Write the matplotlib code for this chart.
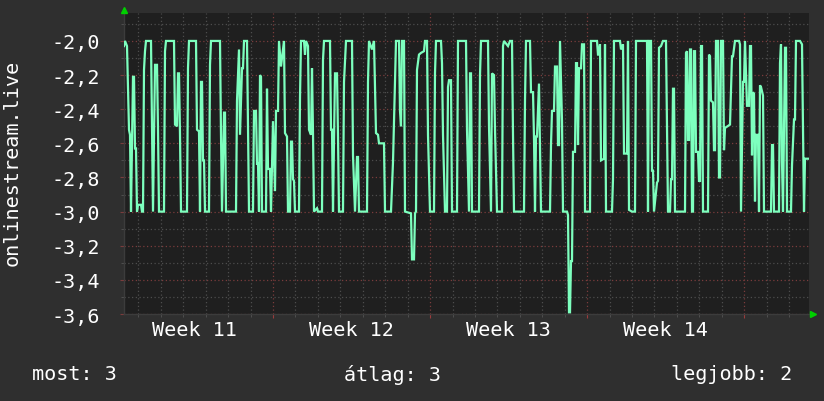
import matplotlib
matplotlib.use('Agg')
import matplotlib.pyplot as plt
from matplotlib.ticker import MultipleLocator, FuncFormatter
import matplotlib.transforms as mtransforms

# ---- data (one rrd column ~ 1.07 h, time in hours from start of week 11) ----
step_hours = 1.07
t_start = 8.5
sample_idx = [
    0, 1, 3, 5, 6, 7, 9, 10, 11, 12, 13, 14, 17, 18, 19, 20, 21, 22, 27, 28,
    29, 31, 33, 34, 35, 40, 41, 42, 50, 51, 53, 54, 55, 56, 57, 63, 64, 65, 72, 73,
    75, 76, 77, 78, 79, 80, 81, 85, 86, 87, 96, 97, 98, 100, 101, 102, 112, 113, 115, 116,
    118, 119, 120, 123, 124, 125, 129, 130, 132, 133, 134, 135, 136, 137, 138, 142, 143, 144, 146, 147,
    149, 151, 152, 154, 155, 157, 160, 161, 163, 164, 166, 167, 168, 169, 170, 171, 175, 176, 177, 180,
    181, 182, 184, 185, 187, 188, 189, 190, 193, 194, 198, 199, 200, 206, 207, 208, 209, 211, 213, 214,
    215, 219, 220, 222, 228, 229, 231, 233, 234, 235, 243, 244, 245, 248, 250, 252, 254, 255, 260, 261,
    267, 269, 271, 272, 275, 276, 277, 278, 280, 281, 287, 288, 290, 291, 292, 293, 295, 297, 300, 301,
    303, 304, 306, 310, 311, 312, 317, 318, 319, 321, 323, 324, 325, 327, 328, 333, 334, 342, 343, 345,
    346, 347, 348, 355, 356, 357, 364, 365, 367, 368, 370, 371, 373, 378, 379, 380, 384, 386, 388, 389,
    390, 400, 401, 402, 406, 407, 409, 410, 411, 412, 413, 415, 417, 426, 427, 428, 430, 431, 433, 434,
    435, 436, 438, 439, 443, 444, 445, 446, 447, 448, 449, 451, 452, 453, 454, 455, 457, 458, 460, 461,
    466, 467, 473, 474, 475, 476, 477, 480, 481, 482, 488, 489, 490, 496, 497, 499, 500, 503, 504, 505,
    508, 511, 512, 523, 524, 525, 527, 528, 529, 530, 533, 534, 535, 537, 539, 542, 544, 546, 547, 548,
    549, 550, 551, 561, 562, 563, 564, 565, 566, 567, 568, 569, 570, 571, 572, 574, 575, 576, 577, 578,
    579, 584, 585, 586, 587, 589, 590, 591, 592, 594, 595, 596, 597, 599, 600, 601, 606, 608, 609, 611,
    615, 616, 617, 619, 620, 621, 623, 625, 626, 627, 628, 629, 630, 631, 632, 634, 635, 636, 637, 639,
    640, 647, 648, 649, 650, 655, 656, 657, 658, 659, 661, 662, 663, 667, 668, 670, 671, 672, 676, 678,
    680, 681, 684,
]
values = [
    -2.03, -2.0, -2.03, -2.52, -2.55, -3.0, -2.21, -2.21, -2.63, -2.63, -3.0, -2.96, -2.96, -3.0, -3.0, -2.17, -2.06, -2.0, -2.0, -2.52,
    -3.0, -2.14, -2.14, -2.52, -3.0, -3.0, -2.06, -2.0, -2.0, -2.49, -2.5, -2.19, -2.19, -2.55, -3.0, -3.0, -2.16, -2.0, -2.0, -2.52,
    -2.53, -3.0, -2.24, -2.24, -2.7, -2.7, -3.0, -3.0, -2.14, -2.0, -2.0, -2.55, -3.0, -2.42, -2.42, -3.0, -3.0, -2.35, -2.05, -2.55,
    -2.16, -2.16, -2.0, -2.0, -2.5, -3.0, -3.0, -2.41, -2.41, -2.72, -2.72, -3.0, -2.2, -2.21, -3.0, -3.0, -2.28, -2.75, -2.75, -3.0,
    -2.47, -2.88, -2.41, -2.41, -2.0, -2.15, -2.0, -2.54, -2.56, -3.0, -3.0, -2.59, -2.59, -2.81, -2.82, -3.0, -3.0, -2.33, -2.0, -2.0,
    -2.08, -2.0, -2.03, -2.52, -2.55, -2.16, -2.54, -3.0, -2.98, -3.0, -3.0, -2.11, -2.0, -2.0, -2.52, -2.52, -3.0, -2.19, -2.19, -2.56,
    -3.0, -3.0, -2.24, -2.0, -2.0, -2.67, -3.0, -2.68, -2.68, -3.0, -3.0, -2.24, -2.0, -2.05, -2.0, -2.54, -2.55, -2.6, -2.6, -3.0,
    -3.0, -2.71, -2.22, -2.0, -2.0, -2.41, -2.5, -2.0, -2.0, -3.0, -3.01, -3.28, -3.28, -3.01, -3.0, -2.17, -2.08, -2.07, -2.06, -2.0,
    -2.0, -2.55, -3.0, -3.0, -2.19, -2.0, -2.0, -2.13, -2.55, -3.0, -3.0, -2.27, -2.23, -2.23, -3.0, -3.0, -2.0, -2.0, -2.52, -3.0,
    -2.19, -2.19, -3.0, -3.0, -2.2, -2.0, -2.0, -2.5, -3.0, -2.19, -2.2, -2.52, -3.0, -3.0, -2.03, -2.0, -2.03, -2.0, -2.0, -2.55,
    -3.0, -3.0, -2.35, -2.0, -2.0, -2.3, -2.3, -2.57, -3.0, -2.56, -2.56, -2.25, -3.0, -3.0, -2.61, -2.41, -2.41, -2.15, -2.15, -2.61,
    -2.61, -2.0, -2.47, -3.0, -3.0, -3.02, -3.59, -3.59, -3.29, -3.29, -2.65, -2.65, -2.13, -2.13, -2.61, -2.16, -2.16, -2.02, -2.02, -3.0,
    -3.0, -2.0, -2.0, -2.08, -2.08, -2.02, -2.7, -2.69, -2.02, -3.0, -3.0, -2.81, -2.0, -2.0, -2.05, -2.02, -2.66, -2.66, -2.0, -2.99,
    -3.0, -3.0, -2.0, -2.0, -3.0, -2.0, -2.0, -2.76, -2.76, -3.0, -2.83, -2.82, -2.04, -2.03, -2.0, -2.0, -3.0, -3.0, -2.81, -2.81,
    -2.28, -2.28, -3.0, -3.0, -2.07, -2.06, -2.58, -2.58, -2.05, -2.05, -3.0, -3.0, -2.06, -2.06, -2.65, -2.65, -2.82, -2.82, -2.03, -2.03,
    -3.0, -3.0, -2.08, -2.09, -2.35, -2.36, -2.64, -2.64, -2.0, -2.0, -2.8, -2.8, -2.0, -2.0, -2.64, -2.51, -2.49, -2.09, -2.09, -2.0,
    -2.0, -2.02, -3.0, -2.24, -2.24, -2.0, -2.38, -2.38, -2.03, -2.03, -2.67, -2.3, -2.31, -2.94, -2.55, -2.55, -3.0, -2.26, -2.27, -2.32,
    -3.0, -3.0, -2.61, -2.61, -3.0, -3.0, -2.13, -2.02, -2.71, -3.0, -2.04, -2.04, -3.0, -3.0, -2.73, -2.46, -2.46, -2.0, -2.0, -2.02,
    -3.0, -2.69, -2.69,
]
n_columns = 685
week_names = ['Week 11', 'Week 12', 'Week 13', 'Week 14']
week_hours = 168
legend_items = [('most: 3', 'left'), ('átlag: 3', 'center'), ('legjobb: 2', 'right')]
y_label = 'onlinestream.live'

# ---- style ----
FIG_BG = '#2f2f2f'
AX_BG = '#1f1f1f'
LINE = '#7dffbe'
TXT = '#ffffff'
MONO = ['DejaVu Sans Mono']

plt.rcParams['font.family'] = MONO

times = [t_start + i * step_hours for i in sample_idx]
t_end = t_start + n_columns * step_hours

fig = plt.figure(figsize=(8.24, 4.02), dpi=100, facecolor=FIG_BG)
ax = fig.add_axes([124 / 824, 1 - 315 / 402, 685 / 824, 301 / 402])
ax.set_facecolor(AX_BG)

ax.plot(times, values, color=LINE, lw=1.6, solid_joinstyle='miter', zorder=3)

ax.set_xlim(t_start, t_end)
ax.set_ylim(-3.6, -2.0 + 28 / 171)

# grids: major = red dotted, minor = grey dotted
ax.xaxis.set_major_locator(MultipleLocator(week_hours))
ax.xaxis.set_minor_locator(MultipleLocator(24))
ax.yaxis.set_major_locator(MultipleLocator(0.2))
ax.yaxis.set_minor_locator(MultipleLocator(0.1))
ax.grid(which='minor', color='#4d4d4d', lw=0.9, ls=(0, (1, 2)), zorder=1)
ax.grid(which='major', color='#7a3c3c', lw=0.9, ls=(0, (1, 2)), zorder=2)
ax.set_axisbelow(True)

ax.yaxis.set_major_formatter(FuncFormatter(lambda v, p: f'{v:.1f}'.replace('.', ',')))
ax.tick_params(axis='y', which='major', colors='#7a3c3c', labelcolor=TXT,
               labelsize=14.5, length=3, pad=14)
ax.tick_params(axis='y', which='minor', colors='#555555', length=2)
ax.tick_params(axis='x', which='major', colors='#9a3c3c', length=3, labelbottom=False)
ax.tick_params(axis='x', which='minor', colors='#555555', length=2)

for s in ['top', 'right']:
    ax.spines[s].set_visible(False)
for s in ['left', 'bottom']:
    ax.spines[s].set_color('#3c3c3c')
    ax.spines[s].set_linewidth(1)

# week labels centred in each week
trans = mtransforms.blended_transform_factory(ax.transData, ax.transAxes)
for i, name in enumerate(week_names):
    ax.text(i * week_hours + week_hours / 2, -0.052, name, transform=trans,
            ha='center', va='center', color=TXT, fontsize=14.5)

# arrows at axis ends, nudged a few pixels past the axes
up = ax.transAxes + mtransforms.ScaledTranslation(0, 3 / 100, fig.dpi_scale_trans)
right = ax.transAxes + mtransforms.ScaledTranslation(4 / 100, 0, fig.dpi_scale_trans)
ax.plot([0], [1.0], marker='^', color='#00d000', ms=5, transform=up,
        clip_on=False, zorder=5)
ax.plot([1.0], [0], marker='>', color='#00d000', ms=5, transform=right,
        clip_on=False, zorder=5)

fig.text(12 / 824, 1 - 163 / 402, y_label, rotation=90, ha='center', va='center',
         color=TXT, fontsize=14.5)

legend_x = {'left': 32 / 824, 'center': 392 / 824, 'right': 792 / 824}
for label, align in legend_items:
    fig.text(legend_x[align], 1 - 375 / 402, label, ha=align, va='center',
             color=TXT, fontsize=14.5)

fig.savefig('out.png', dpi=100, facecolor=FIG_BG)
